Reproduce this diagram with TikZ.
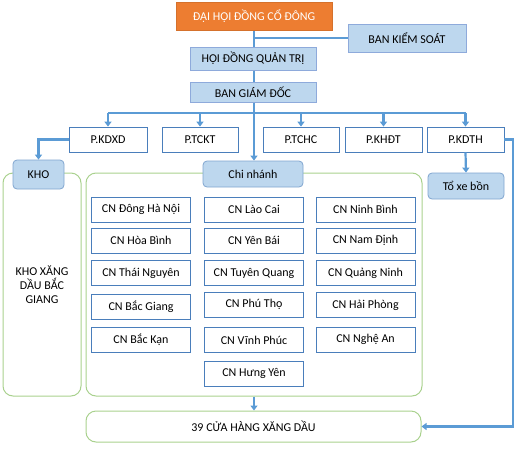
\documentclass[tikz,border=0pt]{standalone}
\usepackage{fontspec}
\setmainfont{Carlito}
\usetikzlibrary{arrows.meta}
\definecolor{hdorange}{HTML}{ED7D31}
\definecolor{hdfill}{HTML}{BDD7EE}
\definecolor{hdline}{HTML}{8EAADB}
\definecolor{boxline}{HTML}{4A7EBB}
\definecolor{conn}{HTML}{5B9BD5}
\definecolor{frame}{HTML}{A9D18E}
\tikzset{
  headbox/.style={draw=hdline,fill=hdfill,line width=1pt,inner sep=0pt,align=center},
  pbox/.style={draw=boxline,fill=white,line width=0.8pt,inner sep=0pt,minimum height=25pt},
  cnbox/.style={draw=boxline,fill=white,line width=0.8pt,inner sep=0pt,minimum height=25pt},
  labbox/.style={draw=boxline!70,fill=hdfill,line width=0.8pt,rounded corners=4pt,inner sep=0pt},
  greenframe/.style={draw=frame,line width=1pt,rounded corners=10pt},
  link/.style={draw=conn,line width=2.2pt},
  arr/.style={link,-{Triangle[width=7pt,length=5pt]}}
}
\begin{document}
\begin{tikzpicture}[x=1pt,y=-1pt,font=\fontsize{12}{14}\selectfont]
    \useasboundingbox (0,0) rectangle (519,450);
    % top of the company
    \node[headbox,draw=hdorange!90!black,fill=hdorange,text=white,minimum width=156pt,minimum height=28pt] (dhcd) at (254,16) {ĐẠI HỘI ĐỒNG CỔ ĐÔNG};
    \node[headbox,minimum width=118pt,minimum height=28pt] (bks) at (407,38) {BAN KIỂM SOÁT};
    \node[headbox,minimum width=126pt,minimum height=23pt] (hdqt) at (253,58.5) {HỘI ĐỒNG QUẢN TRỊ};
    \node[headbox,minimum width=126pt,minimum height=20pt] (bgd) at (253,92) {BAN GIÁM ĐỐC};

    % departments
    \foreach \nm/\x/\w/\lbl in {kdxd/108/78/P.KDXD,tckt/200/76/P.TCKT,tchc/301/76/P.TCHC,khdt/383.5/77/P.KHĐT,kdth/465.5/77/P.KDTH} {
      \node[pbox,minimum width=\w pt] (p\nm) at (\x,139.5) {\lbl};
    }

    % frames
    \node[greenframe,minimum width=78pt,minimum height=223pt] (khoframe) at (42,284.5) {};
    \node[align=center] (khotext) at (42,285) {KHO XĂNG\\DẦU BẮC\\GIANG};
    \node[greenframe,minimum width=336pt,minimum height=223pt] (cnframe) at (254,284.5) {};
    \node[greenframe,minimum width=335pt,minimum height=31pt] (cuahang) at (253.5,426.5) {39 CỬA HÀNG XĂNG DẦU};

    % labels on the frames
    \node[labbox,minimum width=51pt,minimum height=29pt] (kho) at (38.5,174.5) {KHO};
    \node[labbox,minimum width=100pt,minimum height=26pt] (chinhanh) at (253,174) {Chi nhánh};
    \node[labbox,minimum width=76pt,minimum height=26pt] (toxe) at (466,186) {Tổ xe bồn};

    % branches (column x, row y)
    \foreach \nm/\x/\y/\lbl in {a1/141/209.5/CN Đông Hà Nội,a2/141/240.5/CN Hòa Bình,a3/141/273/CN Thái Nguyên,
      a4/141/306.5/CN Bắc Giang,a5/141/340/CN Bắc Kạn,
      b1/254/209.5/CN Lào Cai,b2/254/240.5/CN Yên Bái,b3/254/273/CN Tuyên Quang,
      b4/254/304.5/CN Phú Thọ,b5/254/340/CN Vĩnh Phúc,b6/254/373.5/CN Hưng Yên,
      c1/365.5/209.5/CN Ninh Bình,c2/365.5/240.5/CN Nam Định,c3/365.5/273/CN Quảng Ninh,
      c4/365.5/305/CN Hải Phòng,c5/365.5/339.5/CN Nghệ An} {
      \node[cnbox,minimum width=99pt] (cn\nm) at (\x,\y) {\lbl};
    }

    % connectors
    \coordinate (bus) at (254,113);
    \draw[link] (dhcd.south) -- (dhcd.south |- hdqt.north);
    \draw[link] (dhcd.south |- bks.west) -- (bks.west);
    \draw[link] (hdqt.south -| dhcd.south) -- (bgd.north -| dhcd.south);
    \draw[arr] (bgd.south -| bus) -- (chinhanh.north -| bus);
    \draw[link] (bus -| pkdxd.north) -- (bus -| pkdth.north);
    \foreach \nm in {kdxd,tckt,tchc,khdt,kdth} {
      \draw[arr] (bus -| p\nm.north) -- (p\nm.north);
    }
    \draw[arr] (pkdxd.west) -| (kho.north);
    \draw[arr] (pkdth.south) -- (toxe.north);
    \coordinate (rside) at (513,139.5);
    \draw[arr] (pkdth.east) -- (rside) |- (cuahang.east);
    \draw[arr] (cnframe.south -| bus) -- (cuahang.north -| bus);
\end{tikzpicture}
\end{document}
